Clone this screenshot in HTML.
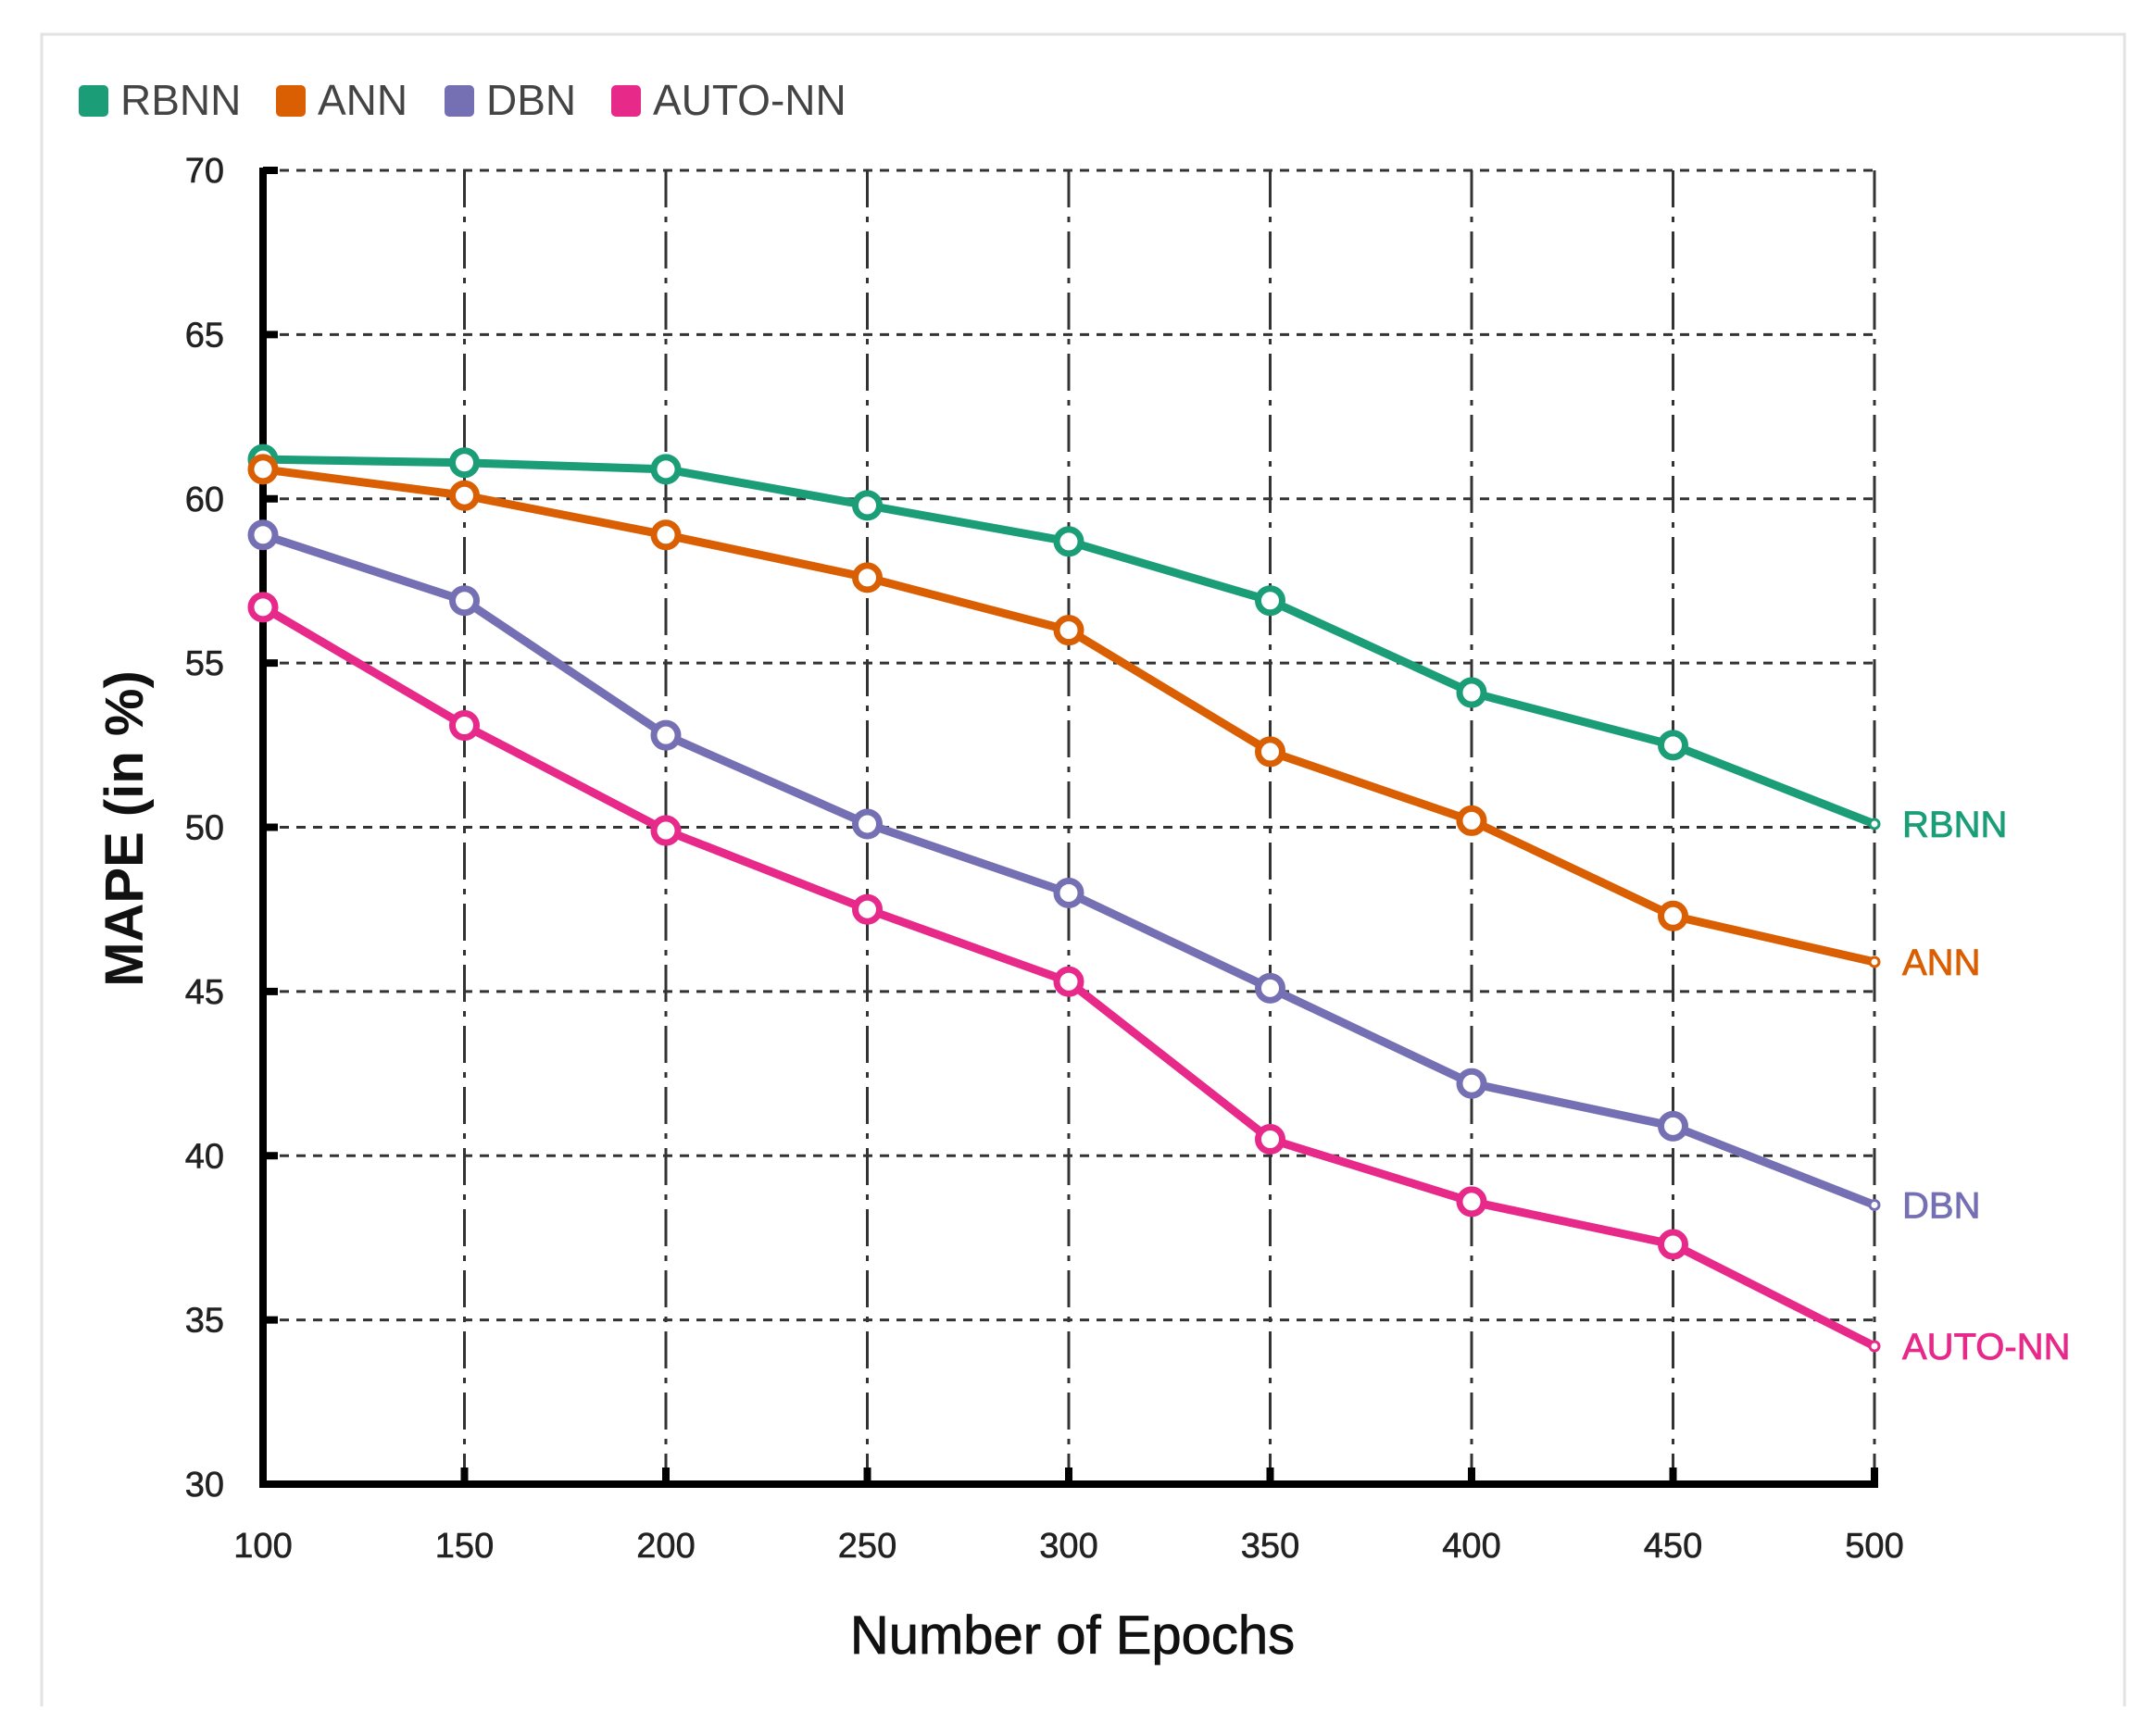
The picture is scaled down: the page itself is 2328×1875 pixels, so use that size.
<!DOCTYPE html>
<html><head><meta charset="utf-8"><style>
html,body{margin:0;padding:0;background:#fff;}
svg{display:block;font-family:"Liberation Sans",sans-serif;}
</style></head><body>
<svg id="chart" width="2328" height="1875" viewBox="0 0 2328 1875">
<path d="M45 1843 L45 37 L2294 37 L2294 1843" fill="#fff" stroke="#e2e2e2" stroke-width="3"/>
<g id="legend"></g>
<g id="grid"></g>
<g id="axes"></g>
<g id="series"></g>
<text x="1158" y="1786" text-anchor="middle" font-size="58" fill="#111" stroke="#111" stroke-width="0.8">Number of Epochs</text>
<text transform="translate(154,895) rotate(-90)" text-anchor="middle" font-size="58" font-weight="bold" fill="#111">MAPE (in %)</text>
</svg>
<script>
const categories = [100,150,200,250,300,350,400,450,500];
const yTicks = [30,35,40,45,50,55,60,65,70];
const seriesNames = ["RBNN","ANN","DBN","AUTO-NN"];
const rbnn = [61.2,61.1,60.9,59.8,58.7,56.9,54.1,52.5,50.1];
const ann = [60.9,60.1,58.9,57.6,56.0,52.3,50.2,47.3,45.9];
const dbn = [58.9,56.9,52.8,50.1,48.0,45.1,42.2,40.9,38.5];
const autoNN = [56.7,53.1,49.9,47.5,45.3,40.5,38.6,37.3,34.2];
const colors = ["#1b9e77","#d95f02","#7570b3","#e7298a"];

const NS="http://www.w3.org/2000/svg";
const X0=284,X1=2024,Y0=1603,Y1=184;
function xs(v){return X0+(v-100)/(500-100)*(X1-X0);}
function ys(v){return Y0-(v-30)/(70-30)*(Y0-Y1);}
function mk(tag,attrs,parent){const e=document.createElementNS(NS,tag);for(const k in attrs)e.setAttribute(k,attrs[k]);parent.appendChild(e);return e;}

const grid=document.getElementById('grid');
yTicks.forEach(t=>{
  if(t===30)return;
  const l=mk('line',{x1:X0,x2:X1,y1:ys(t),y2:ys(t),stroke:'#333','stroke-width':3,'stroke-dasharray':'10 8'},grid);
  
  
});
categories.forEach(c=>{
  if(c===100)return;
  const l=mk('line',{x1:xs(c),x2:xs(c),y1:Y1,y2:Y0,stroke:'#333','stroke-width':3,'stroke-dasharray':'40 10 6 10'},grid);
  
  
});

const axes=document.getElementById('axes');
let a=mk('line',{x1:X0,x2:X0,y1:Y1-3,y2:Y0+4,stroke:'#000','stroke-width':8},axes);


a=mk('line',{x1:X0-4,x2:X1+4,y1:Y0,y2:Y0,stroke:'#000','stroke-width':8},axes);


yTicks.forEach(t=>{
  mk('line',{x1:X0,x2:X0+16,y1:ys(t),y2:ys(t),stroke:'#000','stroke-width':8},axes);
  const tx=mk('text',{x:242,y:ys(t)+13,'text-anchor':'end','font-size':38,fill:'#222',stroke:'#222','stroke-width':0.6},axes);
  tx.textContent=t;
  
  
});
categories.forEach(c=>{
  mk('line',{x1:xs(c),x2:xs(c),y1:Y0,y2:Y0-18,stroke:'#000','stroke-width':8},axes);
  const tx=mk('text',{x:xs(c),y:1682,'text-anchor':'middle','font-size':38,fill:'#222',stroke:'#222','stroke-width':0.6},axes);
  tx.textContent=c;
  
  
});

const legend=document.getElementById('legend');
const legX=[85,298,480,660];
seriesNames.forEach((n,i)=>{
  const r=mk('rect',{x:legX[i],y:92,width:32,height:34,rx:5,fill:colors[i]},legend);
  
  
  const t=mk('text',{x:legX[i]+45,y:124,'font-size':46,fill:'#444'},legend);
  t.textContent=n;
  
  
});

const seriesG=document.getElementById('series');
const all=[rbnn,ann,dbn,autoNN];
all.forEach((vals,si)=>{
  const g=mk('g',{},seriesG);
  
  
  const pts=vals.map((v,i)=>xs(categories[i])+','+ys(v)).join(' ');
  const pl=mk('polyline',{points:pts,fill:'none',stroke:colors[si],'stroke-width':9,'stroke-linejoin':'round'},g);
  
  
  vals.forEach((v,i)=>{
    const last=i===vals.length-1;
    const c=mk('circle',{cx:xs(categories[i]),cy:ys(v),r:last?5:13,fill:'#fff',stroke:colors[si],'stroke-width':last?3:7},g);
    
    
  });
  const lv=vals[vals.length-1];
  const t=mk('text',{x:2054,y:ys(lv)+14,'font-size':40,fill:colors[si],stroke:colors[si],'stroke-width':0.8},g);
  t.textContent=seriesNames[si];
  
  
});
</script>
</body></html>
